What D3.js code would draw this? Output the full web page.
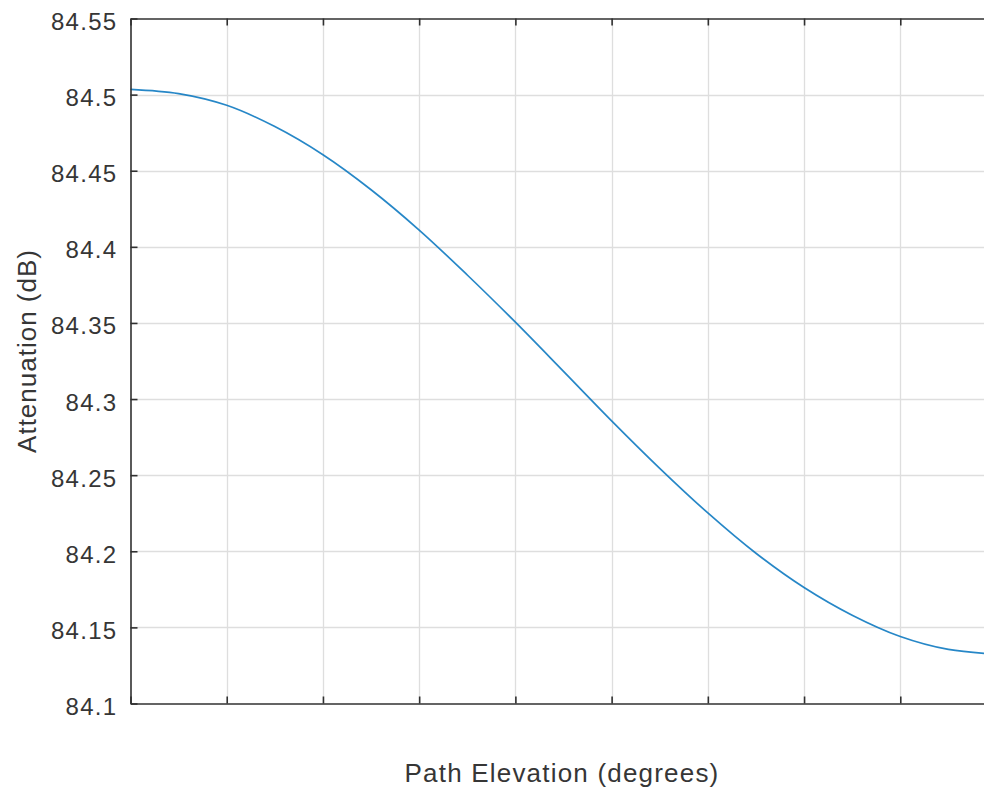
<!DOCTYPE html>
<html>
<head>
<meta charset="utf-8">
<script src="https://cdn.jsdelivr.net/npm/d3@7"></script>
<style>
  html, body { margin: 0; padding: 0; background: #fff; overflow: hidden; }
  svg { display: block; }
  text { font-family: "Liberation Sans", Arial, Helvetica, sans-serif; fill: #363636; }
</style>
</head>
<body>
<svg id="chart" width="984" height="788"></svg>
<script>
// ---- data ----
const elevation = [0, 5, 10, 15, 20, 25, 30, 35, 40, 45, 50, 55, 60, 65, 70, 75, 80, 85, 90];
const attenuation = [84.5035, 84.5007, 84.4930, 84.4790, 84.4605, 84.4375, 84.4110, 84.3815, 84.3505,
                     84.3182, 84.2857, 84.2545, 84.2252, 84.1987, 84.1762, 84.1580, 84.1440, 84.1355, 84.1325];
const xTicks = [0, 10, 20, 30, 40, 50, 60, 70, 80, 90];
const yTicks = [84.1, 84.15, 84.2, 84.25, 84.3, 84.35, 84.4, 84.45, 84.5, 84.55];
const yTickLabels = ["84.1", "84.15", "84.2", "84.25", "84.3", "84.35", "84.4", "84.45", "84.5", "84.55"];
const xLabel = "Path Elevation (degrees)";
const yLabel = "Attenuation (dB)";

// ---- layout ----
const pLeft = 130.5, pRight = 996.5, pTop = 18.5, pBottom = 703.5;
const svg = d3.select("#chart");

const x = d3.scaleLinear().domain([0, 90]).range([pLeft, pRight]);
const y = d3.scaleLinear().domain([84.1, 84.55]).range([pBottom, pTop]);

const axisColor = "#303030";
const textColor = "#363636";
const gridColor = "#dedede";

// grid
const grid = svg.append("g");
grid.selectAll("line.vx").data(xTicks.slice(1, -1)).join("line")
  .attr("x1", d => Math.round(x(d)) + 0.5).attr("x2", d => Math.round(x(d)) + 0.5)
  .attr("y1", pTop).attr("y2", pBottom)
  .attr("stroke", gridColor).attr("stroke-width", 1.3);
grid.selectAll("line.hy").data(yTicks.slice(1, -1)).join("line")
  .attr("y1", d => Math.round(y(d)) + 0.5).attr("y2", d => Math.round(y(d)) + 0.5)
  .attr("x1", pLeft).attr("x2", pRight)
  .attr("stroke", gridColor).attr("stroke-width", 1.3);

// data line
const line = d3.line()
  .x((d, i) => x(elevation[i]))
  .y(d => y(d))
  .curve(d3.curveCatmullRom.alpha(0.5));
svg.append("path")
  .datum(attenuation)
  .attr("d", line)
  .attr("fill", "none")
  .attr("stroke", "#0072BD")
  .attr("stroke-opacity", 0.85)
  .attr("stroke-width", 1.7);

// axes
function styleAxis(g) {
  g.select(".domain").attr("stroke", axisColor).attr("stroke-width", 1.6);
  g.selectAll(".tick line").attr("stroke", axisColor).attr("stroke-width", 1.6);
}
const fmt = d => yTickLabels[yTicks.indexOf(d)];

svg.append("g").attr("transform", `translate(0,${pBottom})`)
  .call(d3.axisBottom(x).tickValues(xTicks).tickSize(-7).tickSizeOuter(0).tickFormat(""))
  .call(styleAxis);
svg.append("g").attr("transform", `translate(0,${pTop})`)
  .call(d3.axisTop(x).tickValues(xTicks).tickSize(-7).tickSizeOuter(0).tickFormat(""))
  .call(styleAxis);
svg.append("g").attr("transform", `translate(${pRight},0)`)
  .call(d3.axisRight(y).tickValues(yTicks).tickSize(-7).tickSizeOuter(0).tickFormat(""))
  .call(styleAxis);
const yAxisG = svg.append("g").attr("transform", `translate(${pLeft},0)`)
  .call(d3.axisLeft(y).tickValues(yTicks).tickSize(-7).tickSizeOuter(0).tickPadding(13).tickFormat(fmt))
  .call(styleAxis);
yAxisG.selectAll(".tick text")
  .attr("dy", "11px")
  .attr("fill", textColor)
  .style("font-family", '"Liberation Sans", Arial, sans-serif')
  .style("font-size", "24px")
  .style("letter-spacing", "1.3px");

// axis labels
svg.append("text")
  .attr("x", 562).attr("y", 782)
  .attr("text-anchor", "middle")
  .attr("fill", textColor)
  .style("font-size", "26px").style("letter-spacing", "1.2px")
  .text(xLabel);
svg.append("text")
  .attr("transform", `translate(36,351) rotate(-90)`)
  .attr("text-anchor", "middle")
  .attr("fill", textColor)
  .style("font-size", "26px").style("letter-spacing", "1px")
  .text(yLabel);
</script>
</body>
</html>
